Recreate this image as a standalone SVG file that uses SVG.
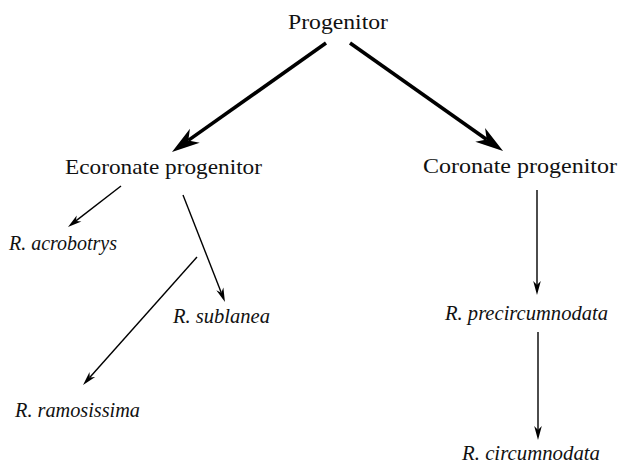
<svg xmlns="http://www.w3.org/2000/svg" width="619" height="466" viewBox="0 0 619 466">
<style>
.lbl{font-family:"Liberation Serif","DejaVu Serif",serif;font-size:21px;fill:#111}
.sp{font-family:"Liberation Serif","DejaVu Serif",serif;font-size:20px;font-style:italic;fill:#111}
.thick{stroke:#000;stroke-width:3.6;fill:none;marker-end:url(#bigHead)}
.thin{stroke:#000;stroke-width:1.4;fill:none;marker-end:url(#smallHead)}
</style>
<defs>
<marker id="bigHead" markerUnits="userSpaceOnUse" viewBox="-29 -10 31 20" markerWidth="31" markerHeight="20" refX="-20" refY="0" orient="auto">
<path d="M0,0 L-28,-8.5 L-20,0 L-28,8.5 Z" fill="#000"/>
</marker>
<marker id="smallHead" markerUnits="userSpaceOnUse" viewBox="-15 -5 16 10" markerWidth="16" markerHeight="10" refX="-10" refY="0" orient="auto">
<path d="M0,0 L-14,-3.8 L-10,0 L-14,3.8 Z" fill="#000"/>
</marker>
</defs>
<rect width="619" height="466" fill="#fff"/>
<g id="connectors">
<line class="thick" x1="326" y1="43" x2="188.3" y2="140.4"/>
<line class="thick" x1="350" y1="43" x2="486.7" y2="139.5"/>
<line class="thin" x1="121" y1="186" x2="75.9" y2="220.9"/>
<line class="thin" x1="183" y1="195" x2="221.3" y2="292.7"/>
<line class="thin" x1="197" y1="257" x2="89.7" y2="377.5"/>
<line class="thin" x1="537" y1="190" x2="537" y2="285"/>
<line class="thin" x1="538" y1="332" x2="538" y2="430"/>
</g>
<g id="progenitor"><text class="lbl" x="288" y="29" textLength="100" lengthAdjust="spacingAndGlyphs">Progenitor</text></g>
<g id="ecoronate"><text class="lbl" x="65" y="174" textLength="197" lengthAdjust="spacingAndGlyphs">Ecoronate progenitor</text></g>
<g id="coronate"><text class="lbl" x="423" y="173" textLength="194" lengthAdjust="spacingAndGlyphs">Coronate progenitor</text></g>
<g id="acrobotrys"><text class="sp" x="9" y="250" textLength="108" lengthAdjust="spacingAndGlyphs">R. acrobotrys</text></g>
<g id="sublanea"><text class="sp" x="173" y="323" textLength="97" lengthAdjust="spacingAndGlyphs">R. sublanea</text></g>
<g id="ramosissima"><text class="sp" x="15" y="417" textLength="125" lengthAdjust="spacingAndGlyphs">R. ramosissima</text></g>
<g id="precircumnodata"><text class="sp" x="445" y="320" textLength="163" lengthAdjust="spacingAndGlyphs">R. precircumnodata</text></g>
<g id="circumnodata"><text class="sp" x="462" y="460" textLength="138" lengthAdjust="spacingAndGlyphs">R. circumnodata</text></g>
</svg>
